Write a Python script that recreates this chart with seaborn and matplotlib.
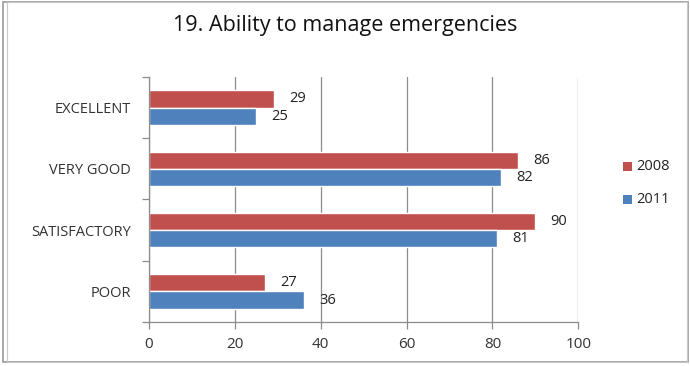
import matplotlib
matplotlib.use("Agg")
import matplotlib.pyplot as plt
import seaborn as sns
import pandas as pd
from matplotlib.patches import Rectangle

categories = ["EXCELLENT", "VERY GOOD", "SATISFACTORY", "POOR"]
values_2008 = [29, 86, 90, 27]
values_2011 = [25, 82, 81, 36]
years = ["2008", "2011"]
x_ticks = [0, 20, 40, 60, 80, 100]

df = pd.DataFrame({
    "category": categories * 2,
    "value": values_2008 + values_2011,
    "year": [years[0]] * len(categories) + [years[1]] * len(categories),
})

sns.set_theme(style="white")
plt.rcParams["font.family"] = ["Open Sans", "DejaVu Sans"]

fig = plt.figure(figsize=(6.9, 3.66), dpi=100)
ax = fig.add_axes([0.216, 0.120, 0.622, 0.670])

palette = {"2008": "#C0504D", "2011": "#4F81BD"}
sns.barplot(data=df, y="category", x="value", hue="year", order=categories,
            hue_order=years, palette=palette, orient="h", width=0.56,
            saturation=1, ax=ax, legend=False)

ax.set_xlim(0, 100)
ax.set_ylim(3.5, -0.5)
ax.set_xticks(x_ticks)
ax.set_xticklabels([str(t) for t in x_ticks], fontsize=11, color="#333333")
ax.xaxis.grid(True, color="#8c8c8c", linewidth=0.9)
ax.set_axisbelow(True)
ax.set_xlabel("")
ax.set_ylabel("")

ax.set_yticks(range(len(categories)))
ax.set_yticklabels(categories, fontsize=10.5, color="#333333")
ax.set_yticks([i - 0.5 for i in range(len(categories) + 1)], minor=True)
ax.tick_params(axis="y", which="major", length=0, pad=13)
ax.tick_params(axis="y", which="minor", length=5, color="#8c8c8c", width=0.9, direction="out", left=True)
ax.tick_params(axis="x", which="major", length=5, color="#8c8c8c", width=0.9, direction="out", bottom=True, pad=6)

for side in ["top", "right"]:
    ax.spines[side].set_visible(False)
for side in ["left", "bottom"]:
    ax.spines[side].set_color("#8c8c8c")
    ax.spines[side].set_linewidth(0.9)

for container in ax.containers:
    ax.bar_label(container, padding=11, fontsize=10.5, color="#222222")

fig.text(0.5, 0.93, "19. Ability to manage emergencies", ha="center", va="center",
         fontsize=15.5, color="#111111")

# legend entries
legend_items = [("2008", palette["2008"], 0.546), ("2011", palette["2011"], 0.456)]
for label, color, y in legend_items:
    fig.patches.append(Rectangle((0.903, y - 0.014), 0.013, 0.026, transform=fig.transFigure,
                                 facecolor=color, edgecolor="none"))
    fig.text(0.922, y, label, ha="left", va="center", fontsize=10.5, color="#222222")

# chart frame
fig.patches.append(Rectangle((0.004, 0.011), 0.993, 0.983, transform=fig.transFigure,
                             facecolor="none", edgecolor="#9a9a9a", linewidth=1.2))
fig.patches.append(Rectangle((0.010, 0.011), 0.986, 0.983, transform=fig.transFigure,
                             facecolor="none", edgecolor="#c8c8c8", linewidth=0.8))

fig.savefig("out.png", dpi=100)
